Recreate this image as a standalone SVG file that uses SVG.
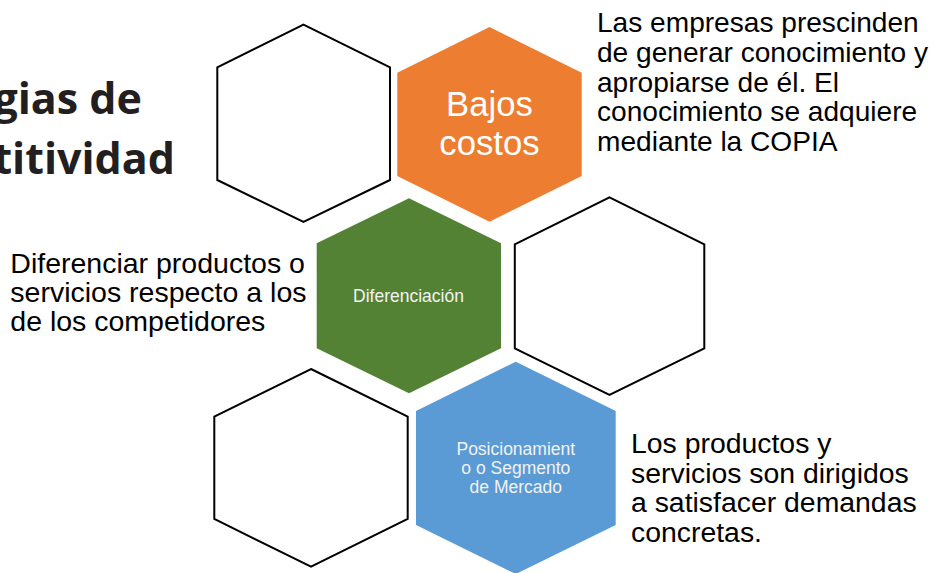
<svg xmlns="http://www.w3.org/2000/svg" width="946" height="573" viewBox="0 0 946 573">
<style>
.hexw{fill:#ffffff;stroke:#000000;stroke-width:2;stroke-linejoin:miter}
.title{font-family:"Open Sans","Liberation Sans",sans-serif;font-weight:700;font-size:43px;fill:#231f20}
.body{font-family:"Liberation Sans",Arial,sans-serif;font-size:28.1px;fill:#000000}
.lbl{font-family:"Liberation Sans",Arial,sans-serif;fill:#f2f2f2;text-anchor:middle}
</style>
<rect width="946" height="573" fill="#ffffff"/>
<g id="title">
<text class="title" x="142" y="114" text-anchor="end">gias de</text>
<text class="title" x="175" y="174" text-anchor="end">titividad</text>
</g>
<g id="connectors"></g>
<g id="hex-empty-1"><polygon class="hexw" points="303.5,24.7 390,67.3 390,180 303.5,222 217.3,180 217.3,67.3"/></g>
<g id="hex-bajos-costos">
<polygon fill="#ED7D31" points="489.5,27 581.7,72.7 581.7,176 489.5,221.7 397.3,176 397.3,72.7"/>
<text class="lbl" font-size="34.7" style="fill:#ffffff"><tspan x="489.5" y="116">Bajos</tspan><tspan x="489.5" y="155">costos</tspan></text>
</g>
<g id="hex-diferenciacion">
<polygon fill="#548235" points="409,198.3 501,243.3 501,348.3 409,393.3 316.7,348.3 316.7,243.3"/>
<text class="lbl" font-size="17.5" x="408.5" y="301.7">Diferenciación</text>
</g>
<g id="hex-empty-2"><polygon class="hexw" points="609.5,197.3 704.3,244.3 704.3,348.3 609.5,395 514.8,348.3 514.8,244.3"/></g>
<g id="hex-empty-3"><polygon class="hexw" points="311,369 407.7,416.7 407.7,519 311,566.7 214.3,519 214.3,416.7"/></g>
<g id="hex-posicionamiento">
<polygon fill="#5B9BD5" points="515.8,361.7 615.7,411 615.7,525 515.8,574 416,525 416,411"/>
<text class="lbl" font-size="17.5"><tspan x="515.8" y="455">Posicionamient</tspan><tspan x="515.8" y="474">o o Segmento</tspan><tspan x="515.8" y="493">de Mercado</tspan></text>
</g>
<g id="text-bajos-costos">
<text class="body"><tspan x="597" y="32.3">Las empresas prescinden</tspan><tspan x="597" y="61.9">de generar conocimiento y</tspan><tspan x="597" y="91.5">apropiarse de él. El</tspan><tspan x="597" y="121.1">conocimiento se adquiere</tspan><tspan x="597" y="150.7">mediante la COPIA</tspan></text>
</g>
<g id="text-diferenciacion">
<text class="body" style="font-size:28.5px"><tspan x="10.3" y="273.3">Diferenciar productos o</tspan><tspan x="10.3" y="302">servicios respecto a los</tspan><tspan x="10.3" y="330.7">de los competidores</tspan></text>
</g>
<g id="text-posicionamiento">
<text class="body" style="font-size:28.4px"><tspan x="631" y="453.3">Los productos y</tspan><tspan x="631" y="482.8">servicios son dirigidos</tspan><tspan x="631" y="512.3">a satisfacer demandas</tspan><tspan x="631" y="541.8">concretas.</tspan></text>
</g>
</svg>
